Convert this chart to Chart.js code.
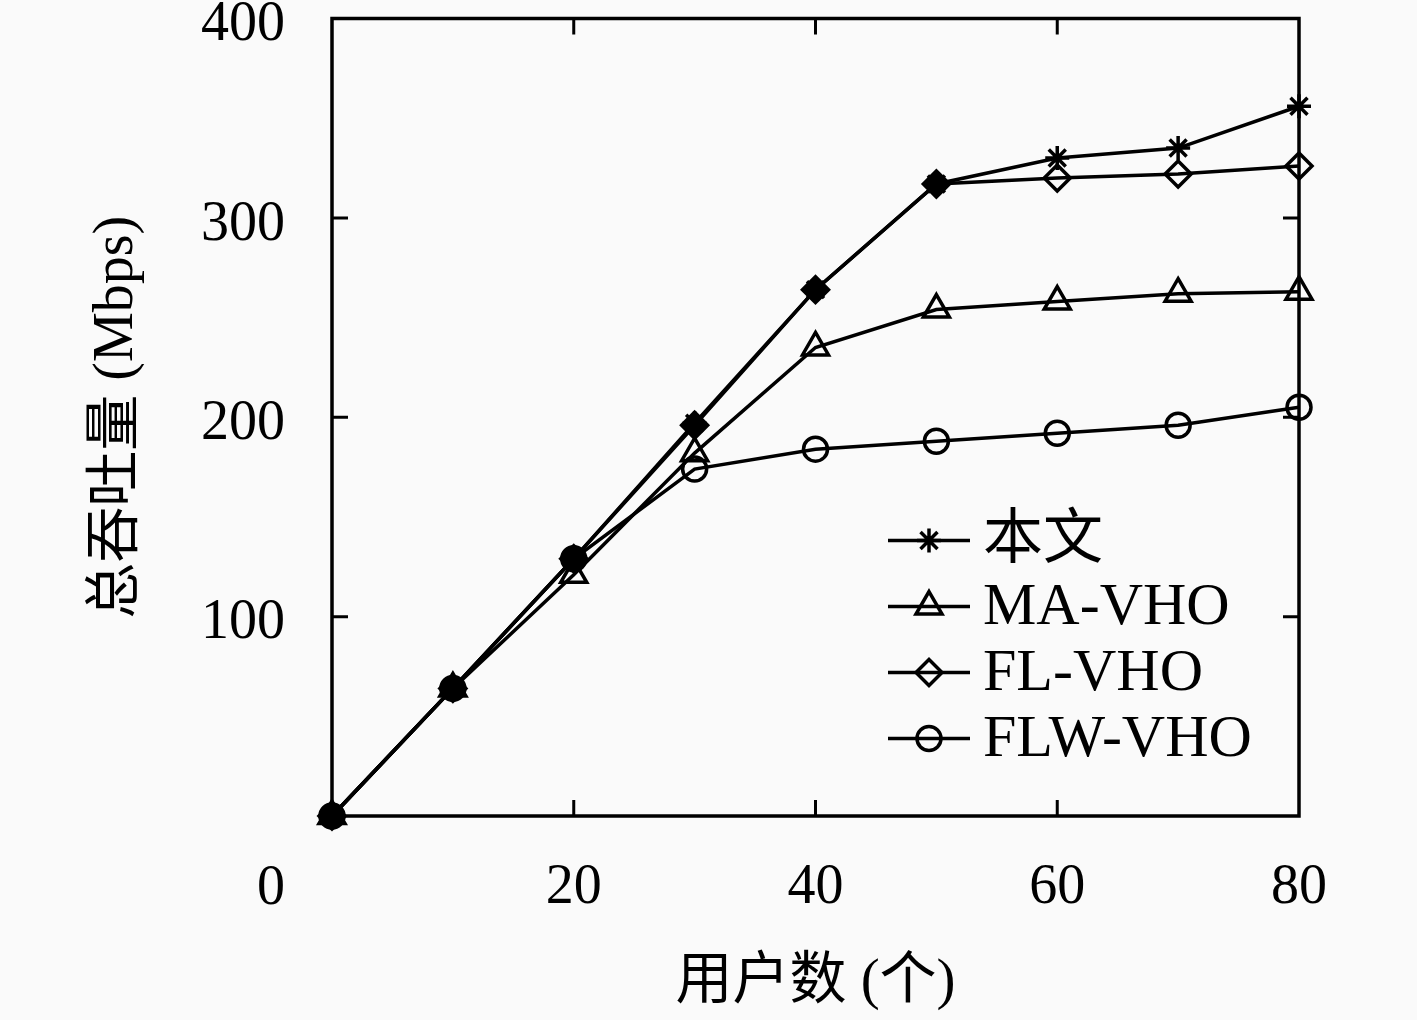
<!DOCTYPE html>
<html lang="zh">
<head>
    <meta charset="UTF-8">
    <title>总吞吐量</title>
    <script src="https://cdn.jsdelivr.net/npm/chart.js@4.4.1/dist/chart.umd.min.js"></script>
    <style>
        body { margin: 0; background: #fafafa; }
    </style>
</head>
<body>
    <canvas id="graph" width="1417" height="1020"></canvas>
    <script>
        // values
        const users = [0, 10, 20, 30, 40, 50, 60, 70, 80];
        const thisWork = [0, 64, 129, 197, 264, 317, 330, 335, 356];
        const maVho = [0, 64, 121, 182, 235, 254, 258, 262, 263];
        const flVho = [0, 64, 129, 196, 264, 317, 320, 322, 326];
        const flwVho = [0, 64, 129, 174, 184, 188, 192, 196, 205];
        const seriesNames = ['本文', 'MA-VHO', 'FL-VHO', 'FLW-VHO'];
        const yTicks = [100, 200, 300, 400];
        const xTicks = [20, 40, 60, 80];

        const allSeries = [thisWork, maVho, flVho, flwVho];
        const FONT = "'Liberation Serif', 'Noto Sans CJK SC', serif";
        const INK = '#000';
        const LW = 3.5;

        function pts(vals) {
            return users.map((u, i) => ({ x: u, y: vals[i] }));
        }

        // markers sitting on top of another series' marker come out as solid blobs
        function blobFill(k) {
            return ctx => {
                const i = ctx.dataIndex;
                const v = allSeries[k][i];
                const hit = allSeries.some((s, j) => j !== k && Math.abs(s[i] - v) < 2);
                return hit ? INK : 'rgba(0,0,0,0)';
            };
        }

        function series(k, style, r) {
            return {
                label: seriesNames[k],
                data: pts(allSeries[k]),
                borderColor: INK,
                borderWidth: LW,
                pointStyle: style,
                pointRadius: r,
                pointBorderWidth: LW,
                pointBorderColor: INK,
                pointBackgroundColor: blobFill(k),
                backgroundColor: 'rgba(0,0,0,0)',
                fill: false,
                tension: 0,
                clip: false
            };
        }

        // box + inward tick marks
        const frame = {
            id: 'frame',
            beforeDraw(chart) {
                const c = chart.ctx;
                c.save();
                c.fillStyle = '#fafafa';
                c.fillRect(0, 0, chart.width, chart.height);
                c.restore();
            },
            beforeDatasetsDraw(chart) {
                const c = chart.ctx;
                const a = chart.chartArea;
                const xs = chart.scales.x, ys = chart.scales.y;
                const len = 16;
                c.save();
                c.strokeStyle = INK;
                c.lineWidth = LW;
                c.strokeRect(a.left, a.top, a.right - a.left, a.bottom - a.top);
                c.lineWidth = 3;
                c.beginPath();
                xTicks.forEach(v => {
                    if (v >= xs.max) return;
                    const px = xs.getPixelForValue(v);
                    c.moveTo(px, a.bottom); c.lineTo(px, a.bottom - len);
                    c.moveTo(px, a.top); c.lineTo(px, a.top + len);
                });
                yTicks.forEach(v => {
                    if (v >= ys.max) return;
                    const py = ys.getPixelForValue(v);
                    c.moveTo(a.left, py); c.lineTo(a.left + len, py);
                    c.moveTo(a.right, py); c.lineTo(a.right - len, py);
                });
                c.stroke();

                // shared "0" at the corner, below the y labels
                c.fillStyle = INK;
                c.font = '56px ' + FONT;
                c.textAlign = 'right';
                c.textBaseline = 'middle';
                c.fillText('0', ys.right - 47, xs.top + 39 + 34);
                c.restore();
            }
        };

        // legend inside the plot, line + marker
        const insideLegend = {
            id: 'insideLegend',
            afterDatasetsDraw(chart) {
                const c = chart.ctx;
                const a = chart.chartArea;
                const x0 = a.right - 411, x1 = a.right - 329;
                const textX = a.right - 316;
                c.save();
                c.font = '60px ' + FONT;
                c.textAlign = 'left';
                c.textBaseline = 'middle';
                chart.data.datasets.forEach((ds, i) => {
                    const y = a.top + 522 + i * 66;
                    c.strokeStyle = INK;
                    c.lineWidth = LW;
                    c.beginPath();
                    c.moveTo(x0, y); c.lineTo(x1, y);
                    c.stroke();
                    if (Chart.helpers && Chart.helpers.drawPoint) {
                        c.fillStyle = 'rgba(0,0,0,0)';
                        Chart.helpers.drawPoint(c, {
                            pointStyle: ds.pointStyle,
                            radius: ds.pointRadius,
                            borderWidth: LW,
                            rotation: 0
                        }, (x0 + x1) / 2, y);
                    }
                    c.fillStyle = INK;
                    c.fillText(seriesNames[i], textX, y + 2);
                });
                c.restore();
            }
        };

        new Chart(document.getElementById('graph'), {
            type: 'line',
            data: {
                datasets: [
                    series(0, 'star', 12),
                    series(1, 'triangle', 15),
                    series(2, 'rectRot', 13),
                    series(3, 'circle', 12)
                ]
            },
            options: {
                responsive: false,
                animation: false,
                layout: { padding: { top: 15, right: 118, left: 0, bottom: 0 } },
                plugins: {
                    legend: { display: false },
                    tooltip: { enabled: false }
                },
                scales: {
                    x: {
                        type: 'linear',
                        min: 0,
                        max: 80,
                        border: { display: false },
                        grid: { display: false, drawTicks: false },
                        afterBuildTicks(s) { s.ticks = xTicks.map(v => ({ value: v })); },
                        afterFit(s) { s.height = 204; s.paddingLeft = 0; s.paddingRight = 0; },
                        ticks: {
                            color: INK,
                            padding: 39,
                            maxRotation: 0,
                            font: { family: FONT, size: 56 }
                        },
                        title: {
                            display: true,
                            text: '用户数 (个)',
                            color: INK,
                            font: { family: FONT, size: 57 },
                            padding: { top: 0, bottom: 3 }
                        }
                    },
                    y: {
                        min: 0,
                        max: 400,
                        border: { display: false },
                        grid: { display: false, drawTicks: false },
                        afterBuildTicks(s) { s.ticks = yTicks.map(v => ({ value: v })); },
                        afterFit(s) { s.width = 332; s.paddingTop = 0; s.paddingBottom = 0; },
                        ticks: {
                            color: INK,
                            padding: 47,
                            labelOffset: 7,
                            font: { family: FONT, size: 56 }
                        },
                        title: {
                            display: true,
                            text: '总吞吐量 (Mbps)',
                            color: INK,
                            font: { family: FONT, size: 56 },
                            padding: { top: 84, bottom: 0 }
                        }
                    }
                }
            },
            plugins: [frame, insideLegend]
        });
    </script>
</body>
</html>
